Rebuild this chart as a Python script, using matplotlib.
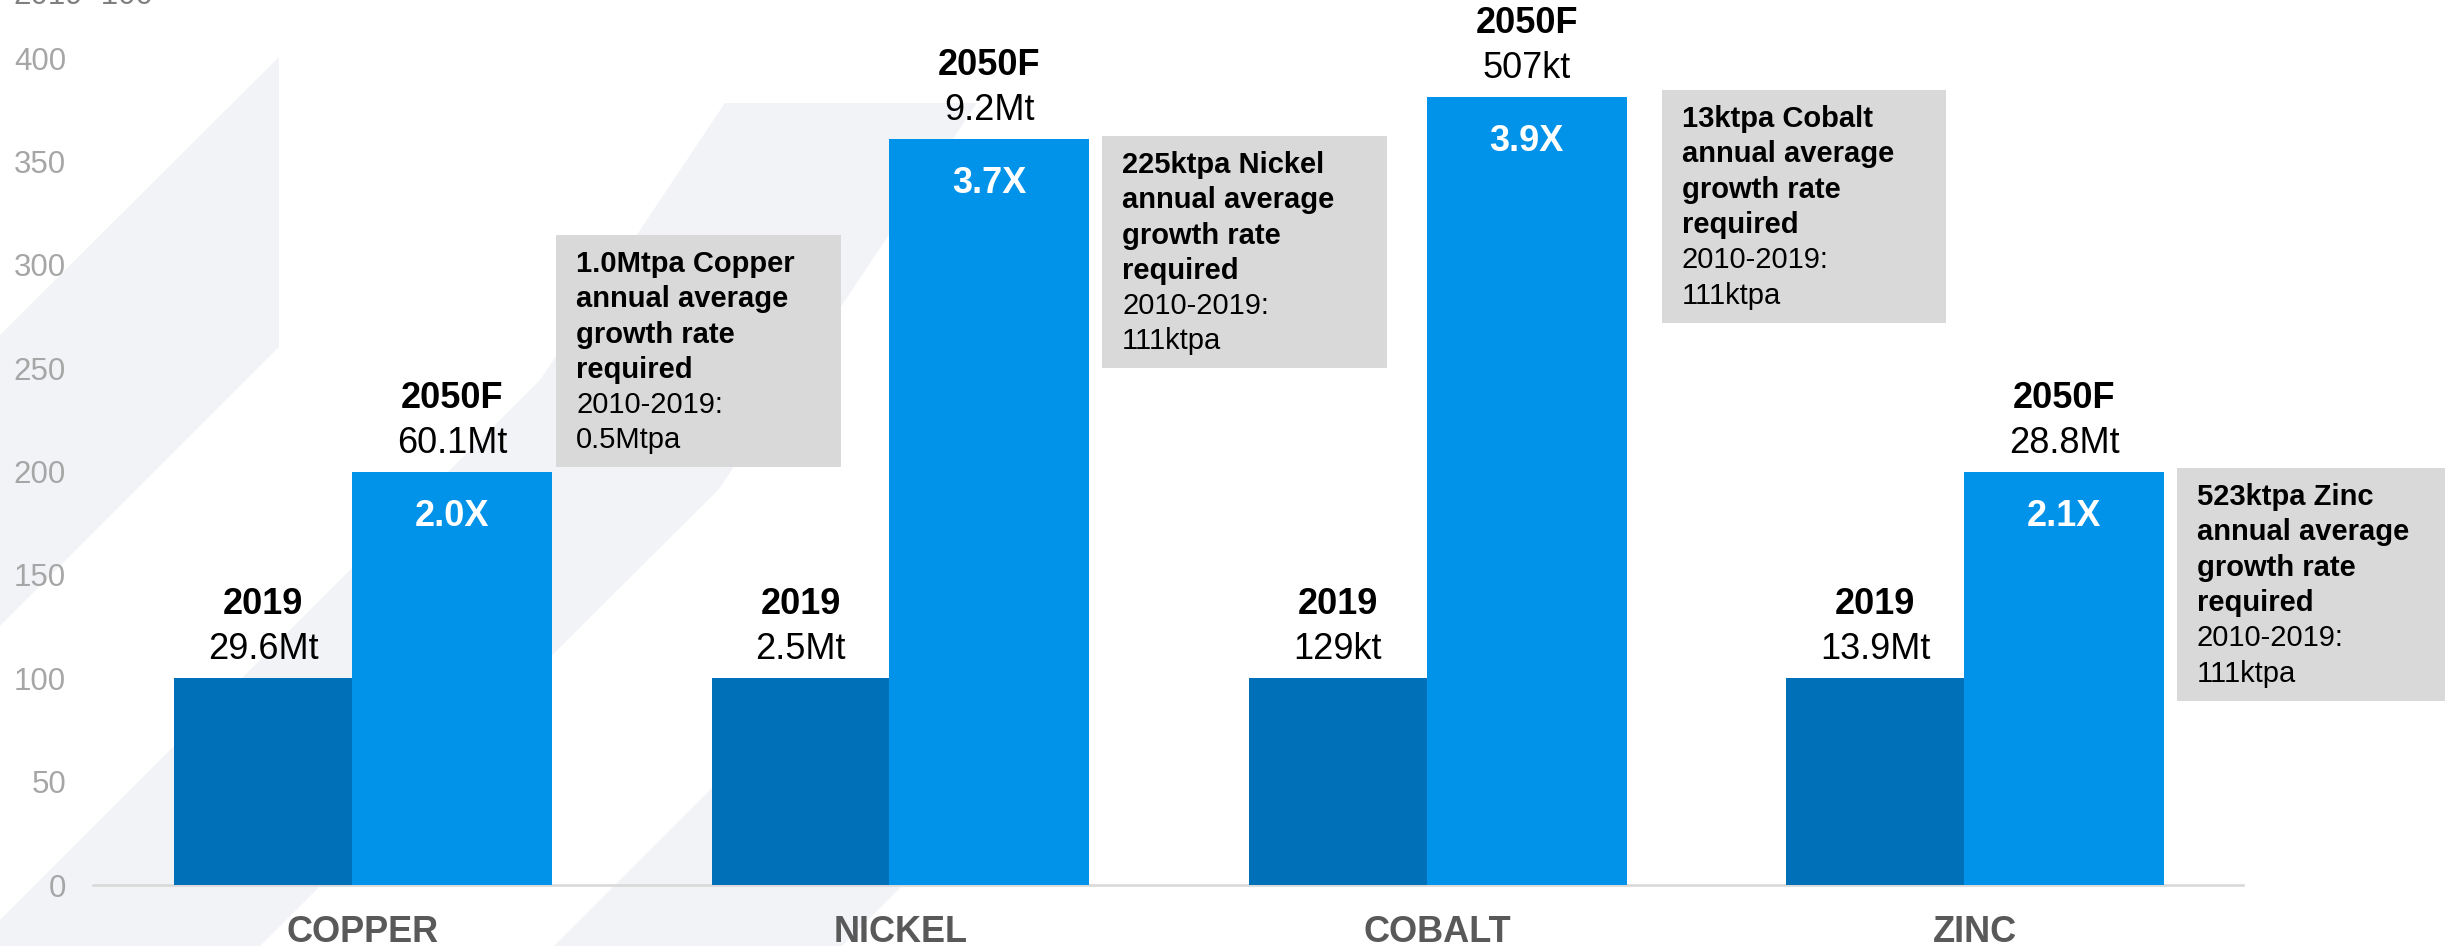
import matplotlib
matplotlib.use("Agg")
import matplotlib.pyplot as plt
from matplotlib.patches import Polygon, Rectangle

# ---------------- data ----------------
categories = ["COPPER", "NICKEL", "COBALT", "ZINC"]
index_2019 = [100, 100, 100, 100]          # 2019 = 100
index_2050 = [200, 361, 381, 200]          # 2050F index
volume_2019 = ["29.6Mt", "2.5Mt", "129kt", "13.9Mt"]
volume_2050 = ["60.1Mt", "9.2Mt", "507kt", "28.8Mt"]
multiples = ["2.0X", "3.7X", "3.9X", "2.1X"]
growth_required = ["1.0Mtpa Copper", "225ktpa Nickel", "13ktpa Cobalt", "523ktpa Zinc"]
growth_history = ["0.5Mtpa", "111ktpa", "111ktpa", "111ktpa"]
yticks = [0, 50, 100, 150, 200, 250, 300, 350, 400]

# ---------------- layout / style ----------------
W, H, DPI = 2445, 946, 100
DARK = "#0070B8"
LIGHT = "#0093E9"
STRIPE = "#F2F3F7"
BOXC = "#D9D9D9"
w_dark, w_light = 0.331, 0.372
box_dx = [0.380, 0.396, 0.437, 0.396]       # box left offset from group boundary
box_top = [314.5, 362.4, 384.6, 201.7]
box_w, box_h = 0.530, 112.5
FONT = "Liberation Sans"
plt.rcParams["font.family"] = [FONT, "DejaVu Sans"]

fig = plt.figure(figsize=(W / DPI, H / DPI), dpi=DPI)
fig.patch.set_facecolor("white")

# background decorative stripes (pixel coords, origin top-left) in a back axes
bg = fig.add_axes([0, 0, 1, 1], zorder=-10)
bg.set_xlim(0, W)
bg.set_ylim(H, 0)
bg.axis("off")
stripes = [
    [(0, 335), (279, 57), (279, 347), (0, 626)],
    [(0, 920), (540, 380), (725, 103), (977, 103), (719, 489), (260, 946), (0, 946)],
    [(554, 946), (800, 700), (1088, 700), (842, 946)],
]
for s in stripes:
    bg.add_patch(Polygon(s, closed=True, facecolor=STRIPE, edgecolor="none"))

ax = fig.add_axes([93 / W, (H - 885) / H, (2243 - 93) / W, 826.8 / H], zorder=1)
ax.set_facecolor("none")
ax.set_xlim(-0.482, 3.519)
ax.set_ylim(0, 400)

x = list(range(len(categories)))
ax.bar(x, index_2019, width=-w_dark, align="edge", color=DARK, zorder=3)
ax.bar(x, index_2050, width=w_light, align="edge", color=LIGHT, zorder=3)

for sp in ["top", "right", "left"]:
    ax.spines[sp].set_visible(False)
ax.spines["bottom"].set_color("#D9D9D9")
ax.spines["bottom"].set_linewidth(1.9)
ax.spines["bottom"].set_zorder(2)

ax.set_yticks(yticks)
ax.set_yticklabels([str(v) for v in yticks])
ax.tick_params(axis="y", length=0, pad=19.4, labelsize=22.5, labelcolor="#A6A6A6")
ax.set_xticks([i + (w_light - w_dark) / 2 for i in x])
ax.set_xticklabels(categories, fontweight="bold")
ax.tick_params(axis="x", length=0, pad=21.6, labelsize=26, labelcolor="#595959")

# bar labels
for i in x:
    cd = i - w_dark / 2
    cl = i + w_light / 2
    ax.annotate(volume_2019[i], (cd, index_2019[i]), xytext=(0, 19), textcoords="offset pixels",
                ha="center", va="baseline", fontsize=26, color="black", annotation_clip=False)
    ax.annotate("2019", (cd, index_2019[i]), xytext=(0, 64), textcoords="offset pixels",
                ha="center", va="baseline", fontsize=26, fontweight="bold", color="black",
                annotation_clip=False)
    ax.annotate(volume_2050[i], (cl, index_2050[i]), xytext=(0, 19), textcoords="offset pixels",
                ha="center", va="baseline", fontsize=26, color="black", annotation_clip=False)
    ax.annotate("2050F", (cl, index_2050[i]), xytext=(0, 64), textcoords="offset pixels",
                ha="center", va="baseline", fontsize=26, fontweight="bold", color="black",
                annotation_clip=False)
    ax.annotate(multiples[i], (cl, index_2050[i]), xytext=(0, -54), textcoords="offset pixels",
                ha="center", va="baseline", fontsize=26, fontweight="bold", color="white",
                annotation_clip=False, zorder=5)

    # annotation boxes
    bl = i + box_dx[i]
    rect = Rectangle((bl, box_top[i] - box_h), box_w, box_h, facecolor=BOXC,
                     edgecolor="none", zorder=4, clip_on=False)
    ax.add_patch(rect)
    lines = [(growth_required[i], "bold"), ("annual average", "bold"),
             ("growth rate", "bold"), ("required", "bold"),
             ("2010-2019:", "normal"), (growth_history[i], "normal")]
    for k, (txt, wt) in enumerate(lines):
        ax.annotate(txt, (bl, box_top[i]), xytext=(20, -37 - 35.3 * k),
                    textcoords="offset pixels", ha="left", va="baseline",
                    fontsize=21, fontweight=wt, color="black",
                    annotation_clip=False, zorder=5)

fig.text(13 / W, 1 - 4 / H, "2019=100", ha="left", va="baseline",
         fontsize=22.5, color="#7F7F7F")

fig.savefig("out.png", dpi=DPI, facecolor="white")
